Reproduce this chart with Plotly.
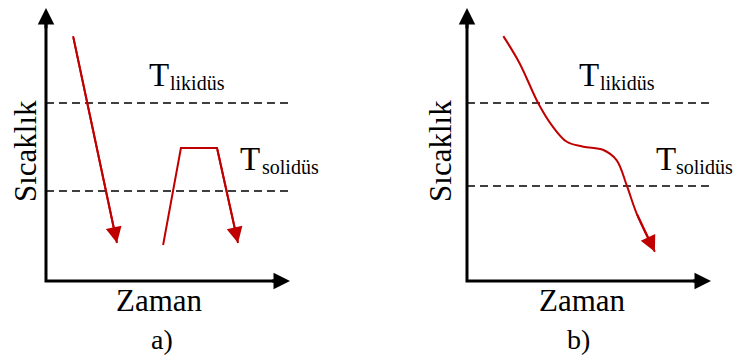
import plotly.graph_objects as go

# Shared levels (arbitrary temperature units, axis arrow tip at 10)
axis_len_t = [0.0, 10.0]
axis_len_T = [0.0, 10.0]
dash_end_t = [10.08, 10.04]
liquidus_T = [6.52, 6.52]
solidus_T = [3.30, 3.48]

# Panel a: fast quench straight down, and a reheat / hold / cool cycle
quench_t = [1.11, 2.91]
quench_T = [8.97, 1.39]
cycle_t = [4.80, 5.53, 7.01, 7.87]
cycle_T = [1.32, 4.87, 4.87, 1.39]

# Panel b: slow cooling with a thermal arrest between liquidus and solidus
cool_t = [1.49, 2.16, 2.92, 3.47, 4.09, 4.77, 5.59, 6.13, 6.54, 6.95, 7.70]
cool_T = [8.97, 7.97, 6.51, 5.71, 5.10, 4.92, 4.80, 4.43, 3.52, 2.48, 1.07]

panel_tags = ["a)", "b)"]
x_label = "Zaman"
y_label = "Sıcaklık"
level_names = ["likidüs", "solidüs"]

RED = "#c00000"
FONT = "'Times New Roman', 'Liberation Serif', 'DejaVu Serif', serif"

fig = go.Figure()

# axis pairs: (xaxis, yaxis) per panel
refs = [("x", "y"), ("x2", "y2")]

for i, (xr, yr) in enumerate(refs):
    # L-shaped axes
    fig.add_trace(go.Scatter(
        x=[0, 0, axis_len_t[1] - 0.3], y=[axis_len_T[1] - 0.3, 0, 0],
        mode="lines", line=dict(color="black", width=3),
        xaxis=xr, yaxis=yr, hoverinfo="skip"))
    # dashed liquidus / solidus
    for lvl in (liquidus_T[i], solidus_T[i]):
        fig.add_trace(go.Scatter(
            x=[0, dash_end_t[i]], y=[lvl, lvl], mode="lines",
            line=dict(color="black", width=1.5, dash="8px,5px"),
            xaxis=xr, yaxis=yr, hoverinfo="skip"))
    # axis arrowheads
    for (hx, hy, tx, ty) in [(0, axis_len_T[1], 0, axis_len_T[1] - 0.8),
                             (axis_len_t[1], 0, axis_len_t[1] - 0.8, 0)]:
        fig.add_annotation(x=hx, y=hy, ax=tx, ay=ty, xref=xr, yref=yr,
                           axref=xr, ayref=yr, text="", showarrow=True,
                           arrowhead=2, arrowsize=1.1, arrowwidth=3,
                           arrowcolor="black")

# red cooling paths
paths = [("x", "y", quench_t, quench_T, "linear"),
         ("x", "y", cycle_t, cycle_T, "linear"),
         ("x2", "y2", cool_t, cool_T, "spline")]
for xr, yr, ts, Ts, shape in paths:
    fig.add_trace(go.Scatter(x=ts, y=Ts, mode="lines",
                             line=dict(color=RED, width=2, shape=shape),
                             xaxis=xr, yaxis=yr, hoverinfo="skip"))
    # arrowhead at the path end, along the last segment
    fig.add_annotation(x=ts[-1], y=Ts[-1], ax=ts[-2], ay=Ts[-2], xref=xr, yref=yr,
                       axref=xr, ayref=yr, text="", showarrow=True,
                       arrowhead=2, arrowsize=1.6, arrowwidth=2, arrowcolor=RED)

# "T" + smaller name set on a slightly lower baseline
# (xref, yref, T left, T mid, name left, name mid, name)
level_specs = [
    ("x", "y", 4.18, 7.54, 5.04, 7.24, level_names[0]),
    ("x2", "y2", 4.55, 7.54, 5.41, 7.24, level_names[0]),
    ("x", "y", 7.91, 4.47, 8.81, 4.16, level_names[1]),
    ("x2", "y2", 7.70, 4.47, 8.54, 4.16, level_names[1]),
]
for xr, yr, tx, ty, sx, sy, name in level_specs:
    fig.add_annotation(x=tx, y=ty, xref=xr, yref=yr, text="T", showarrow=False,
                       xanchor="left", yanchor="middle", borderpad=0,
                       font=dict(family=FONT, size=33, color="black"))
    fig.add_annotation(x=sx, y=sy, xref=xr, yref=yr, text=name, showarrow=False,
                       xanchor="left", yanchor="middle", borderpad=0,
                       font=dict(family=FONT, size=20, color="black"))

text_specs = [
    # (xref, yref, t, T, text, size, angle)
    ("x", "y", 4.67, -0.73, x_label, 31, 0),
    ("x2", "y2", 4.72, -0.73, x_label, 31, 0),
    ("x", "y", 4.75, -2.16, panel_tags[0], 28, 0),
    ("x2", "y2", 4.55, -2.16, panel_tags[1], 28, 0),
    ("x", "y", -0.86, 4.76, y_label, 31, -90),
    ("x2", "y2", -1.11, 4.76, y_label, 31, -90),
]
for xr, yr, tx, ty, txt, sz, ang in text_specs:
    fig.add_annotation(x=tx, y=ty, xref=xr, yref=yr, text=txt, showarrow=False,
                       xanchor="center", yanchor="middle", textangle=ang,
                       font=dict(family=FONT, size=sz, color="black"))

hidden = dict(visible=False, showgrid=False, zeroline=False)
fig.update_layout(
    width=738, height=360, margin=dict(l=0, r=0, t=0, b=0),
    paper_bgcolor="white", plot_bgcolor="white", showlegend=False,
    font=dict(family=FONT),
    xaxis=dict(domain=[0, 0.5], range=[-1.885, 13.238], **hidden),
    yaxis=dict(domain=[0, 1], range=[-2.894, 10.293], **hidden),
    xaxis2=dict(domain=[0.5, 1], range=[-4.016, 11.107], **hidden),
    yaxis2=dict(domain=[0, 1], range=[-2.894, 10.293], anchor="x2", **hidden),
)

fig.write_html("out.html")
